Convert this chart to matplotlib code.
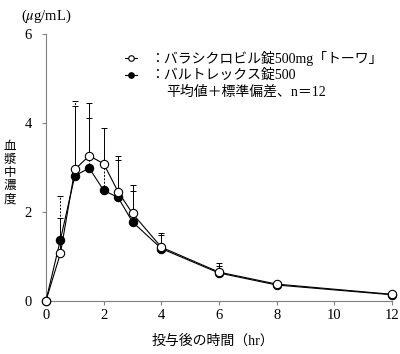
import numpy as np
import matplotlib.pyplot as plt
from matplotlib.lines import Line2D

plt.rcParams['font.family'] = ['Liberation Serif', 'Noto Sans CJK JP']
plt.rcParams['mathtext.fontset'] = 'stix'

# --- dados ---
tempo = [0, 0.5, 1, 1.5, 2, 2.5, 3, 4, 6, 8, 12]
teste_media = [0, 1.06, 2.95, 3.26, 3.08, 2.45, 1.96, 1.20, 0.64, 0.37, 0.14]
teste_sd = [0, 0.80, 1.43, 1.19, 0.81, 0.80, 0.64, 0.33, 0.20, 0.05, 0.02]
ref_media = [0, 1.37, 2.81, 2.98, 2.48, 2.32, 1.77, 1.17, 0.62, 0.35, 0.13]
ref_sd = [0, 0.98, 1.68, 1.14, 0.55, 0.84, 0.69, 0.31, 0.16, 0.07, 0.02]

xticks = [0, 2, 4, 6, 8, 10, 12]
yticks = [0, 2, 4, 6]

rotulo_teste = '：バラシクロビル錠500mg「トーワ」'
rotulo_ref = '：バルトレックス錠500'
nota = '平均値＋標準偏差、n＝12'

fig = plt.figure(figsize=(4.0, 3.54), dpi=100)
ax = fig.add_axes([0.115, 0.151, 0.865, 0.753])

zeros = np.zeros(len(tempo))

# barras de erro (só para cima)
_, _, bars = ax.errorbar(tempo, ref_media, yerr=[zeros, ref_sd], fmt='none',
                         ecolor='k', elinewidth=0.7, capsize=2.2, capthick=0.7, zorder=2)
bars[0].set_linestyle((0, (2.0, 1.5)))
ax.errorbar(tempo, teste_media, yerr=[zeros, teste_sd], fmt='none',
            ecolor='k', elinewidth=0.7, capsize=2.2, capthick=0.7, zorder=2)

ax.plot(tempo, ref_media, '-o', color='k', lw=0.8, ms=6, mfc='k', mec='k',
        mew=0.8, zorder=3, clip_on=False)
ax.plot(tempo, teste_media, '-o', color='k', lw=0.8, ms=6, mfc='white', mec='k',
        mew=0.8, zorder=4, clip_on=False)

ax.set_xlim(0, 12)
ax.set_ylim(0, 6)
ax.set_xticks(xticks)
ax.set_yticks(yticks)
for s in ['top', 'right']:
    ax.spines[s].set_visible(False)
for s in ['left', 'bottom']:
    ax.spines[s].set_color('#808080')
    ax.spines[s].set_linewidth(0.8)
ax.tick_params(axis='both', direction='out', length=3, width=0.8, color='#808080',
               labelsize=10.5)
ax.tick_params(axis='y', pad=7)
ax.tick_params(axis='x', pad=3)

# textos
fig.text(21 / 400, 1 - 16 / 354, '($\\mu$g/mL)', fontsize=10.5, va='center', ha='left')
fig.text(10 / 400, 1 - 173 / 354, '血\n漿\n中\n濃\n度', fontsize=9, ha='center',
         va='center', linespacing=1.12)
fig.text(213 / 400, 1 - 341 / 354, '投与後の時間（hr）', fontsize=10, ha='center', va='center')

# legenda manual
linhas_y = [58, 75]
for yy, cor in zip(linhas_y, ['white', 'k']):
    fig.add_artist(Line2D([125 / 400, 137 / 400], [1 - yy / 354] * 2, color='k', lw=0.8))
    fig.add_artist(Line2D([131 / 400], [1 - yy / 354], marker='o', ms=4, mfc=cor,
                          mec='k', mew=0.8, color='k'))
fig.text(150 / 400, 1 - 58 / 354, rotulo_teste, fontsize=10, va='center', ha='left')
fig.text(150 / 400, 1 - 75 / 354, rotulo_ref, fontsize=10, va='center', ha='left')
fig.text(166 / 400, 1 - 92 / 354, nota, fontsize=10, va='center', ha='left')

plt.savefig('out.png', dpi=100)
